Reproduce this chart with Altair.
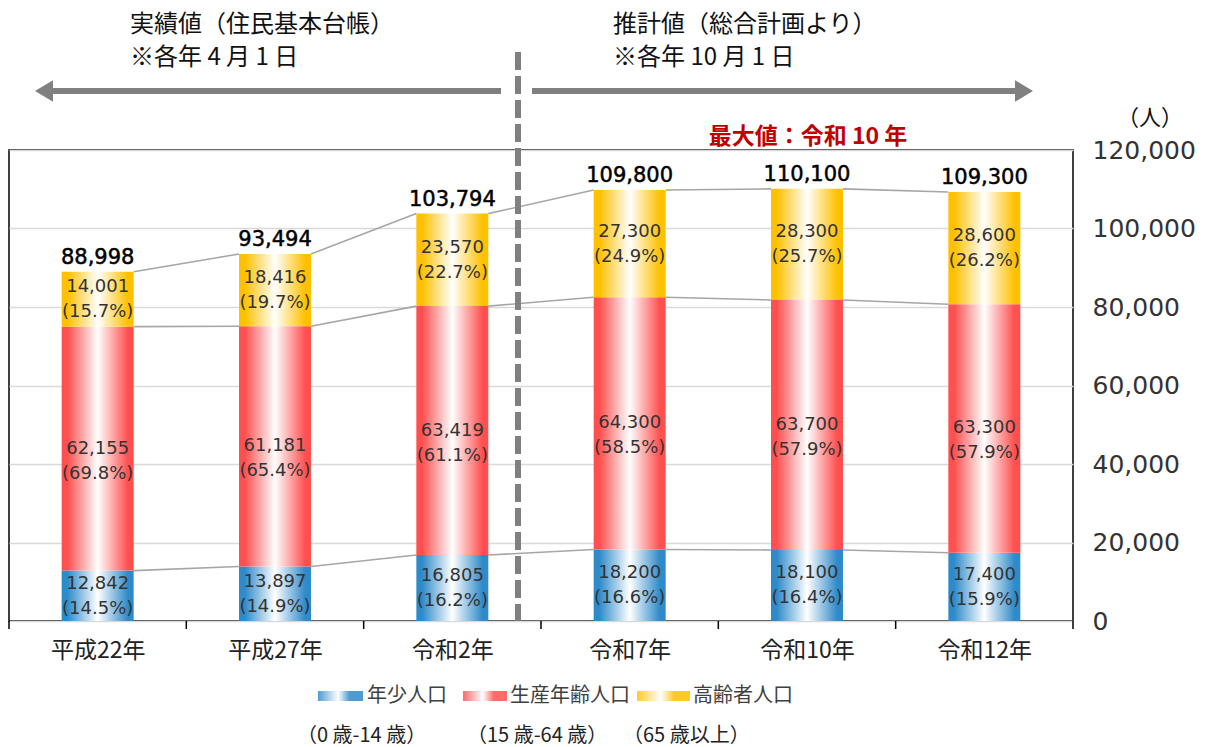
import json
import pandas as pd
import altair as alt

# ---------------- data ----------------
years = ["平成22年", "平成27年", "令和2年", "令和7年", "令和10年", "令和12年"]
young = [12842, 13897, 16805, 18200, 18100, 17400]
working = [62155, 61181, 63419, 64300, 63700, 63300]
elderly = [14001, 18416, 23570, 27300, 28300, 28600]
totals = [88998, 93494, 103794, 109800, 110100, 109300]
young_pct = ["14.5", "14.9", "16.2", "16.6", "16.4", "15.9"]
working_pct = ["69.8", "65.4", "61.1", "58.5", "57.9", "57.9"]
elderly_pct = ["15.7", "19.7", "22.7", "24.9", "25.7", "26.2"]
series_names = ["年少人口", "生産年齢人口", "高齢者人口"]
series_ages = ["（0 歳-14 歳）", "（15 歳-64 歳）", "（65 歳以上）"]
y_ticks = [0, 20000, 40000, 60000, 80000, 100000, 120000]

# ---------------- styling ----------------
W, H = 1064, 471
HW = 0.203  # half bar width in category units
CJK = "Noto Sans CJK JP"
NUM = "DejaVu Sans"
COLORS = {"年少人口": "#2f8ac9", "生産年齢人口": "#ff4f4f", "高齢者人口": "#ffc000"}


def grad(c):
    return alt.Gradient(
        gradient="linear",
        stops=[
            alt.GradientStop(color=c, offset=0),
            alt.GradientStop(color=c, offset=0.08),
            alt.GradientStop(color="#ffffff", offset=0.5),
            alt.GradientStop(color=c, offset=0.92),
            alt.GradientStop(color=c, offset=1),
        ],
        x1=0, x2=1, y1=0, y2=0,
    )


# ---------------- tables ----------------
rows = []
for i, yr in enumerate(years):
    lo = 0
    for name, vals, pcts in zip(series_names, (young, working, elderly),
                                (young_pct, working_pct, elderly_pct)):
        v = vals[i]
        rows.append(dict(idx=i, year=yr, series=name, lo=lo, hi=lo + v,
                         label=f"{v:,}\n({pcts[i]}%)"))
        lo += v
seg = pd.DataFrame(rows)

links = []
for name in series_names:
    s = seg[seg.series == name].sort_values("idx").reset_index(drop=True)
    for i in range(len(s) - 1):
        links.append(dict(series=name, i=int(s.idx[i]), top=s.hi[i], top_next=s.hi[i + 1]))
links = pd.DataFrame(links)

tot = pd.DataFrame({"idx": list(range(len(years))), "total": totals,
                    "tlabel": [f"{t:,}" for t in totals]})
bounds = pd.DataFrame({"b": [i - 0.5 for i in range(len(years) + 1)]})

xscale = alt.Scale(domain=[-0.5, len(years) - 0.5], nice=False, zero=False)
yscale = alt.Scale(domain=[0, 120000], nice=False, zero=True)

XAX = alt.Axis(values=list(range(len(years))),
               labelExpr=f"{json.dumps(years, ensure_ascii=False)}[datum.value]",
               ticks=False, grid=False, domain=False, title=None,
               labelFont=CJK, labelFontSize=23, labelColor="#222",
               labelPadding=18)
YAX = alt.Axis(orient="right", values=y_ticks, title=None,
               labelExpr="format(datum.value, ',')",
               labelFont=NUM, labelFontSize=25, labelColor="#333",
               tickSize=0, labelPadding=19, domain=False,
               gridColor="#d9d9d9", gridWidth=1.5)


def X(field):
    return alt.X(field, scale=xscale, axis=XAX, title=None)


def Y(field):
    return alt.Y(field, scale=yscale, axis=YAX, title=None)


# ---------------- layers ----------------
tick_layer = alt.Chart(bounds).mark_rule(color="#000", strokeWidth=1.5).encode(
    x=X("b:Q"), y=alt.value(H), y2=alt.value(H + 8),
)

link_layer = alt.Chart(links).transform_calculate(
    xa=f"datum.i + {HW}", xb=f"datum.i + 1 - {HW}"
).mark_rule(color="#a6a6a6", strokeWidth=1.6).encode(
    x=X("xa:Q"), x2="xb:Q", y=Y("top:Q"), y2="top_next:Q",
)

bar_layers = []
for name in series_names:
    bar_layers.append(
        alt.Chart(seg).transform_filter(alt.datum.series == name).transform_calculate(
            xa=f"datum.idx - {HW}", xb=f"datum.idx + {HW}"
        ).mark_bar(color=grad(COLORS[name])).encode(
            x=X("xa:Q"), x2="xb:Q", y=Y("lo:Q"), y2="hi:Q",
        )
    )

text_layers = []
for name, shift in zip(series_names, (-12, 0, -12)):
    text_layers.append(
        alt.Chart(seg).transform_filter(alt.datum.series == name).transform_calculate(
            mid="(datum.lo + datum.hi) / 2"
        ).mark_text(font=NUM, fontSize=18, color="#333", lineBreak="\n",
                    lineHeight=25, baseline="middle", dy=shift).encode(
            x=X("idx:Q"), y=Y("mid:Q"), text="label:N",
        )
    )

tot_text = alt.Chart(tot).mark_text(font=NUM, fontSize=21, color="#000",
                                    stroke="#000", strokeWidth=0.5,
                                    baseline="middle", dy=-14).encode(
    x=X("idx:Q"), y=Y("total:Q"), text="tlabel:N",
)


def note(text, x, y, size=25, color="#111", weight="normal", align="left", font=CJK):
    return alt.Chart(pd.DataFrame({"t": [text]})).mark_text(
        font=font, fontSize=size, color=color, fontWeight=weight,
        align=align, baseline="middle").encode(
        x=alt.value(x), y=alt.value(y), text="t:N")


dummy = pd.DataFrame({"d": [0]})
ARROW_C = "#808080"
arrow_l = alt.Chart(dummy).mark_rule(color=ARROW_C, strokeWidth=6).encode(
    x=alt.value(40), x2=alt.value(492), y=alt.value(-59))
arrow_r = alt.Chart(dummy).mark_rule(color=ARROW_C, strokeWidth=6).encode(
    x=alt.value(523), x2=alt.value(1012), y=alt.value(-59))
head_l = alt.Chart(dummy).mark_point(
    shape="M1,-1.2L-1,0L1,1.2Z", filled=True, opacity=1, color=ARROW_C, size=324,
    strokeWidth=0).encode(x=alt.value(35), y=alt.value(-59))
head_r = alt.Chart(dummy).mark_point(
    shape="M-1,-1.2L1,0L-1,1.2Z", filled=True, opacity=1, color=ARROW_C, size=324,
    strokeWidth=0).encode(x=alt.value(1015), y=alt.value(-59))
dash = alt.Chart(dummy).mark_rule(color=ARROW_C, strokeWidth=6, strokeDash=[18, 6]).encode(
    x=alt.value(509), y=alt.value(-98), y2=alt.value(H))

notes = [
    note("実績値（住民基本台帳）", 121, -125, size=24),
    note("※各年 4 月 1 日", 121, -92, size=24),
    note("推計値（総合計画より）", 604, -125, size=24),
    note("※各年 10 月 1 日", 604, -92, size=24),
    note("最大値：令和 10 年", 799, -13, size=23, color="#c00000", weight="bold", align="center"),
    note("（人）", 1141, -32, size=22, align="center"),
]

# legend
legend_layers = []
sw_x = [(309, 354), (454, 498), (628, 681)]
tx_1 = [358, 501, 684]
tx_2 = [288, 458, 614]
for k, name in enumerate(series_names):
    c = COLORS[name]
    g = alt.Gradient(gradient="linear", stops=[
        alt.GradientStop(color=c, offset=0), alt.GradientStop(color="#ffffff", offset=0.45),
        alt.GradientStop(color=c, offset=0.7), alt.GradientStop(color=c, offset=1)],
        x1=0, x2=1, y1=0, y2=0)
    legend_layers.append(alt.Chart(dummy).mark_rect(color=g, opacity=0.85).encode(
        x=alt.value(sw_x[k][0]), x2=alt.value(sw_x[k][1]),
        y=alt.value(541), y2=alt.value(551)))
    legend_layers.append(note(name, tx_1[k], 546, size=20, color="#404040"))
    legend_layers.append(note(series_ages[k], tx_2[k], 586, size=20, color="#222"))

chart = alt.layer(
    tick_layer, link_layer, *bar_layers, *text_layers, tot_text,
    arrow_l, arrow_r, head_l, head_r, dash, *notes, *legend_layers,
).properties(
    width=W, height=H,
    padding={"left": 1, "top": 142, "right": 124, "bottom": 126},
    autosize=alt.AutoSizeParams(type="none"),
).configure_view(stroke="#000", strokeWidth=1.5)

chart.save("out.html", embed_options={"renderer": "svg", "actions": False})
